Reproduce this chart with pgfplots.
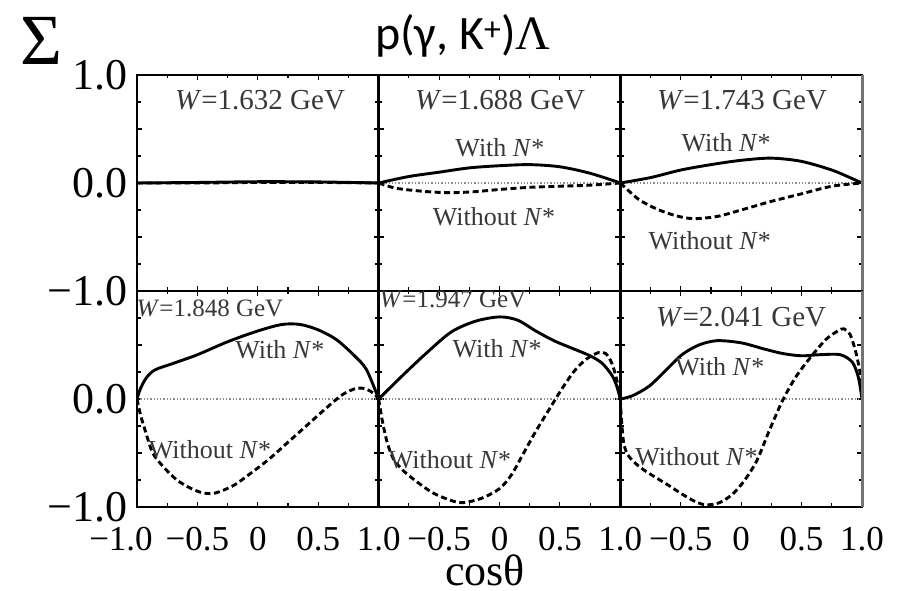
\documentclass[border=0pt]{standalone}
\usepackage{pgfplots}
\pgfplotsset{compat=1.18}
\usepackage{fontspec}
\setmainfont{Liberation Serif}
\newfontfamily\titlefont{Carlito}
\newfontfamily\serifgreek{Liberation Serif}
\definecolor{txt}{HTML}{383838}
\tikzset{
 lbl/.style={text=txt, font=\fontsize{29}{29}\selectfont},
 slbl/.style={text=txt, font=\fontsize{25}{25}\selectfont},
 wlbl/.style={text=txt, font=\fontsize{26}{26}\selectfont},
}
\begin{document}
\begin{tikzpicture}[x=1pt,y=1pt]
\useasboundingbox (0,0) rectangle (905,591);
\pgfplotsset{
 panel/.style={
   scale only axis, width=241.67pt, height=216pt, anchor=south west,
   xmin=-1,xmax=1,ymin=-1,ymax=1,
   xtick={-1,-0.5,0,0.5,1}, ytick={-1,-0.5,0,0.5,1},
   minor xtick={-0.75,-0.25,0.25,0.75}, minor ytick={-0.75,-0.25,0.25,0.75},
   tick pos=both, tick align=inside,
   major tick length=5pt, minor tick length=3.5pt,
   tick style={black, line width=1.1pt},
   xticklabels={}, yticklabels={},
   axis line style={line width=1.3pt},
   clip mode=individual,
   xticklabel style={font=\fontsize{35}{35}\selectfont, anchor=base, yshift=-44pt, inner sep=0pt},
   yticklabel style={font=\fontsize{44}{44}\selectfont, anchor=east, inner sep=0pt, xshift=-9pt},
 },
 with/.style={black, line width=2.9pt, smooth, tension=0.5, mark=none},
 without/.style={black, line width=2.9pt, dash pattern=on 6pt off 3.5pt, smooth, tension=0.5, mark=none},
 zero/.style={black!45, dotted, line width=1.3pt, mark=none},
}
% ---------------- top-left W=1.632
\begin{axis}[panel, at={(137pt,300pt)}, yticklabels={−1.0,,0.0,,1.0}]
\addplot[zero] coordinates {(-1,0) (1,0)};
\addplot[without] coordinates {(-1,0) (-0.5,0.0) (0,0.005) (0.5,0.005) (1,0)};
\addplot[with] coordinates {(-1,0) (-0.5,0.005) (0,0.012) (0.5,0.01) (1,0)};
\node[lbl] at (axis cs:0.018,0.77) {\textit{W}=1.632 GeV};
\draw[line width=2.6pt] (rel axis cs:0,0) -- (rel axis cs:0,1) -- (rel axis cs:1,1);
\draw[line width=2.6pt] (rel axis cs:1,0) -- (rel axis cs:1,1);
\end{axis}
% ---------------- top-middle W=1.688
\begin{axis}[panel, at={(378.67pt,300pt)}]
\addplot[zero] coordinates {(-1,0) (1,0)};
\addplot[without] coordinates {(-1,0) (-0.85,-0.05) (-0.6,-0.08) (-0.4,-0.09) (-0.2,-0.08) (0,-0.06) (0.25,-0.04) (0.5,-0.03) (0.75,-0.02) (1,0)};
\addplot[with] coordinates {(-1,0) (-0.75,0.06) (-0.5,0.1) (-0.25,0.14) (0,0.16) (0.25,0.17) (0.5,0.15) (0.75,0.09) (1,0)};
\node[lbl] at (axis cs:0.004,0.77) {\textit{W}=1.688 GeV};
\node[wlbl] at (axis cs:0.004,0.33) {With \textit{N}*};
\node[wlbl] at (axis cs:-0.045,-0.31) {Without \textit{N}*};
\draw[line width=2.6pt] (rel axis cs:0,1) -- (rel axis cs:1,1);
\draw[line width=2.6pt] (rel axis cs:1,0) -- (rel axis cs:1,1);
\end{axis}
% ---------------- top-right W=1.743
\begin{axis}[panel, at={(620.33pt,300pt)}]
\addplot[zero] coordinates {(-1,0) (1,0)};
\addplot[without] coordinates {(-1,0) (-0.85,-0.15) (-0.7,-0.24) (-0.55,-0.3) (-0.4,-0.33) (-0.2,-0.31) (0,-0.25) (0.25,-0.17) (0.5,-0.1) (0.75,-0.03) (1,0)};
\addplot[with] coordinates {(-1,0) (-0.75,0.05) (-0.5,0.12) (-0.25,0.17) (0,0.21) (0.25,0.23) (0.5,0.2) (0.75,0.12) (0.9,0.05) (1,0)};
\node[lbl] at (axis cs:0.007,0.77) {\textit{W}=1.743 GeV};
\node[wlbl] at (axis cs:-0.125,0.37) {With \textit{N}*};
\node[wlbl] at (axis cs:-0.26,-0.53) {Without \textit{N}*};
\draw[line width=2.6pt] (rel axis cs:0,1) -- (rel axis cs:1,1);
\draw[black!55, line width=3pt] (rel axis cs:1,0) -- (rel axis cs:1,1);
\end{axis}
% ---------------- bottom-left W=1.848
\begin{axis}[panel, at={(137pt,84pt)},
  yticklabels={−1.0,,0.0,,},
  xticklabels={\makebox[0pt]{\hspace{-32pt}−1.0},−0.5,0,0.5,1.0}]
\addplot[zero] coordinates {(-1,0) (1,0)};
\addplot[without] coordinates {(-1,0) (-0.97,-0.15) (-0.93,-0.3) (-0.87,-0.5) (-0.78,-0.63) (-0.67,-0.75) (-0.55,-0.83) (-0.45,-0.87) (-0.35,-0.87) (-0.2,-0.8) (-0.05,-0.68) (0.1,-0.55) (0.25,-0.4) (0.4,-0.25) (0.55,-0.1) (0.7,0.04) (0.82,0.1) (0.9,0.09) (0.96,0.05) (1,0)};
\addplot[with] coordinates {(-1,0) (-0.97,0.1) (-0.92,0.2) (-0.85,0.27) (-0.7,0.33) (-0.5,0.41) (-0.25,0.53) (0,0.63) (0.2,0.69) (0.35,0.69) (0.5,0.64) (0.65,0.55) (0.8,0.4) (0.9,0.27) (1,0)};
\node[slbl] at (axis cs:-0.396,0.84) {\textit{W}=1.848 GeV};
\node[wlbl] at (axis cs:0.183,0.46) {With \textit{N}*};
\node[wlbl] at (axis cs:-0.396,-0.47) {Without \textit{N}*};
\draw[line width=2.6pt] (rel axis cs:0,1) -- (rel axis cs:0,0) -- (rel axis cs:1,0);
\draw[line width=2.6pt] (rel axis cs:1,0) -- (rel axis cs:1,1);
\end{axis}
% ---------------- bottom-middle W=1.947
\begin{axis}[panel, at={(378.67pt,84pt)},
  xticklabels={,−0.5,0,0.5,1.0}]
\addplot[zero] coordinates {(-1,0) (1,0)};
\addplot[without] coordinates {(-1,0) (-0.97,-0.2) (-0.93,-0.4) (-0.88,-0.55) (-0.8,-0.66) (-0.68,-0.77) (-0.55,-0.87) (-0.4,-0.94) (-0.3,-0.96) (-0.15,-0.92) (0,-0.83) (0.1,-0.7) (0.2,-0.5) (0.3,-0.3) (0.42,-0.08) (0.52,0.1) (0.62,0.26) (0.72,0.37) (0.82,0.43) (0.88,0.42) (0.93,0.33) (0.97,0.18) (1,0)};
\addplot[with] coordinates {(-1,0) (-0.8,0.22) (-0.6,0.43) (-0.4,0.62) (-0.2,0.72) (0,0.76) (0.15,0.73) (0.3,0.63) (0.45,0.54) (0.6,0.47) (0.75,0.40) (0.85,0.33) (0.93,0.22) (0.97,0.12) (1,0)};
\node[slbl] at (axis cs:-0.385,0.92) {\textit{W}=1.947 GeV};
\node[wlbl] at (axis cs:-0.02,0.47) {With \textit{N}*};
\node[wlbl] at (axis cs:-0.41,-0.56) {Without \textit{N}*};
\draw[line width=2.6pt] (rel axis cs:0,0) -- (rel axis cs:1,0);
\draw[line width=2.6pt] (rel axis cs:1,0) -- (rel axis cs:1,1);
\end{axis}
% ---------------- bottom-right W=2.041
\begin{axis}[panel, at={(620.33pt,84pt)},
  xticklabels={,−0.5,0,0.5,1.0}]
\addplot[zero] coordinates {(-1,0) (1,0)};
\addplot[without] coordinates {(-1,0) (-0.99,-0.2) (-0.97,-0.42) (-0.93,-0.53) (-0.85,-0.62) (-0.76,-0.69) (-0.6,-0.8) (-0.49,-0.88) (-0.38,-0.95) (-0.29,-0.98) (-0.18,-0.96) (-0.07,-0.88) (0.03,-0.75) (0.13,-0.57) (0.23,-0.3) (0.34,-0.02) (0.45,0.2) (0.57,0.38) (0.7,0.55) (0.8,0.63) (0.85,0.65) (0.9,0.6) (0.94,0.47) (0.97,0.33) (1,0.15)};
\addplot[with] coordinates {(-1,0) (-0.9,0.03) (-0.76,0.12) (-0.62,0.27) (-0.49,0.41) (-0.35,0.5) (-0.2,0.54) (0,0.52) (0.2,0.46) (0.35,0.42) (0.5,0.40) (0.65,0.41) (0.82,0.41) (0.92,0.34) (0.97,0.2) (1,0)};
\node[lbl] at (axis cs:0,0.76) {\textit{W}=2.041 GeV};
\node[wlbl] at (axis cs:-0.177,0.30) {With \textit{N}*};
\node[wlbl] at (axis cs:-0.37,-0.53) {Without \textit{N}*};
\draw[line width=2.6pt] (rel axis cs:0,0) -- (rel axis cs:1,0);
\draw[black!55, line width=3pt] (rel axis cs:1,0) -- (rel axis cs:1,1);
\end{axis}
% ---------------- titles
\node[anchor=base, font=\titlefont\fontsize{48}{48}\selectfont] at (463,541) {p(γ, K\textsuperscript{+})\serifgreek Λ};
\node[font=\fontsize{72}{72}\selectfont] at (41,550) {Σ};
\node[anchor=base, font=\fontsize{44}{44}\selectfont, inner sep=0pt] at (485,5) {cosθ};
\end{tikzpicture}
\end{document}
